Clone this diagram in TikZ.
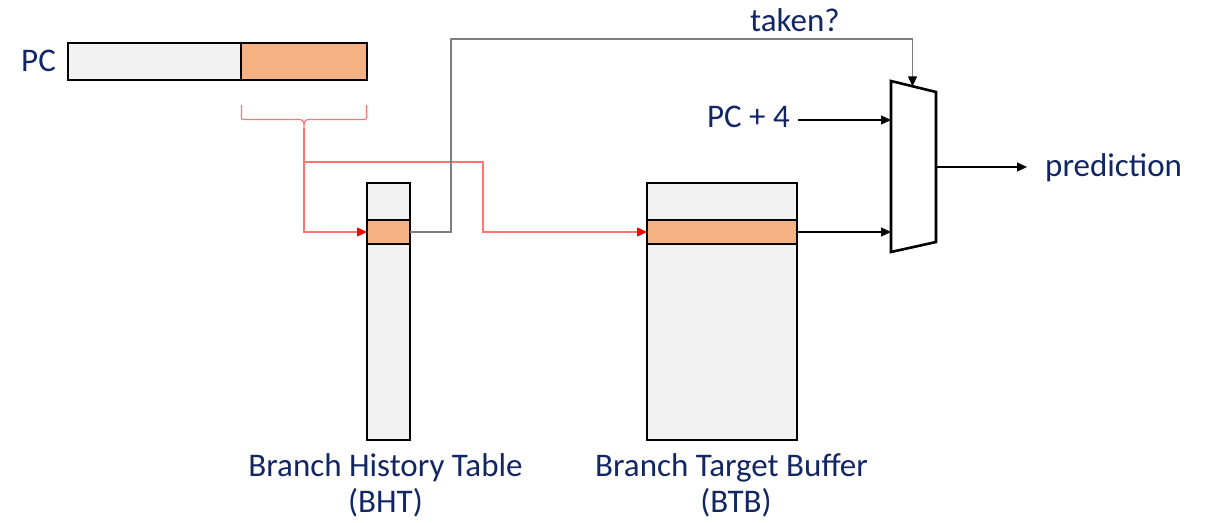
\documentclass[tikz,border=0pt]{standalone}
\usepackage{fontspec}
\setmainfont{Carlito}
\usetikzlibrary{arrows.meta}
\definecolor{navy}{RGB}{18,38,100}
\definecolor{cellgray}{RGB}{242,242,242}
\definecolor{cellorange}{RGB}{244,177,131}
\definecolor{wirered}{RGB}{255,115,115}
\definecolor{takengray}{RGB}{125,125,125}

\begin{document}
\begin{tikzpicture}[x=1pt,y=-1pt,
  cell/.style={draw=black, line width=2.6pt, inner sep=0pt, outer sep=0pt},
  lbl/.style={text=navy, font=\fontsize{33}{39}\selectfont, inner sep=0pt},
  wire/.style={line width=1.1pt, -{Triangle[length=10pt,width=9pt]}},
  redwire/.style={draw=wirered, line width=1.2pt},
  redarrow/.style={redwire, -{Triangle[length=10pt,width=9pt,color=red]}},
  gatewire/.style={draw=takengray, line width=1.4pt, -{Triangle[length=10pt,width=9pt,color=black]}}
]
\useasboundingbox (0,0) rectangle (1209,522);

% program counter: upper bits and index bits
\node[lbl, anchor=base west] (pclabel) at (21,71.7) {PC};
\node[cell, fill=cellgray, minimum width=173pt, minimum height=37pt] (pchi) at (154.5,61.5) {};
\node[cell, fill=cellorange, minimum width=126pt, minimum height=37pt] (pclo) at (304,61.5) {};

% branch history table
\node[cell, fill=cellgray, minimum width=43pt, minimum height=37pt] (bhttop) at (388.5,201.5) {};
\node[cell, fill=cellgray, minimum width=43pt, minimum height=196pt] (bhtbot) at (388.5,342) {};
\node[cell, fill=cellorange, minimum width=43pt, minimum height=24pt] (bhtrow) at (388.5,232) {};
\node[lbl, anchor=base] (bhtname) at (385.5,476) {Branch History Table};
\node[lbl, anchor=base] (bhtabbr) at (385.5,512) {(BHT)};

% branch target buffer
\node[cell, fill=cellgray, minimum width=150pt, minimum height=37pt] (btbtop) at (722,201.5) {};
\node[cell, fill=cellgray, minimum width=150pt, minimum height=196pt] (btbbot) at (722,342) {};
\node[cell, fill=cellorange, minimum width=150pt, minimum height=24pt] (btbrow) at (722,232) {};
\node[lbl, anchor=base] (btbname) at (731.5,476) {Branch Target Buffer};
\node[lbl, anchor=base] (btbabbr) at (736,512) {(BTB)};

% multiplexer
\draw[line width=2.6pt, line join=miter] (891,81) -- (936,92) -- (936,242) -- (891,252) -- cycle;
\coordinate (mux sel) at (912.5,86.3);
\coordinate (mux in1) at (891,120);
\coordinate (mux in0) at (891,232);
\coordinate (mux out) at (936,167);

% labels around the multiplexer
\node[lbl, anchor=base east] (pc4) at (790,127.7) {PC + 4};
\node[lbl, anchor=base west] (taken) at (750,31.7) {taken?};
\node[lbl, anchor=base west] (pred) at (1045,176) {prediction};

% index bits fan out to both tables
\draw[redwire] (241.5,105) -- (241.5,115.5) .. controls (241.5,119.5) .. (245.5,119.5)
  -- (299,119.5) .. controls (303.5,119.5) and (304,122) .. (304,128)
  .. controls (304,122) and (304.5,119.5) .. (309,119.5)
  -- (362.5,119.5) .. controls (366.5,119.5) .. (366.5,115.5) -- (366.5,105);
\coordinate (brace tip) at (304,128);
\coordinate (split) at (304,162);
\coordinate (redbend) at (483,162);
\draw[redarrow] (brace tip) |- (bhtrow.west);
\draw[redarrow] (split) -- (redbend) |- (btbrow.west);

% taken bit routed to the select input
\coordinate (gatebend) at (451,39);
\draw[gatewire] (bhtrow.east) -| (gatebend) -| (mux sel);

% data inputs and output
\draw[wire] ([xshift=8pt]pc4.east |- mux in1) -- (mux in1);
\draw[wire] (btbrow.east) -- (mux in0);
\draw[wire] (mux out) -- ([xshift=-18pt]pred.west |- mux out);
\end{tikzpicture}
\end{document}
